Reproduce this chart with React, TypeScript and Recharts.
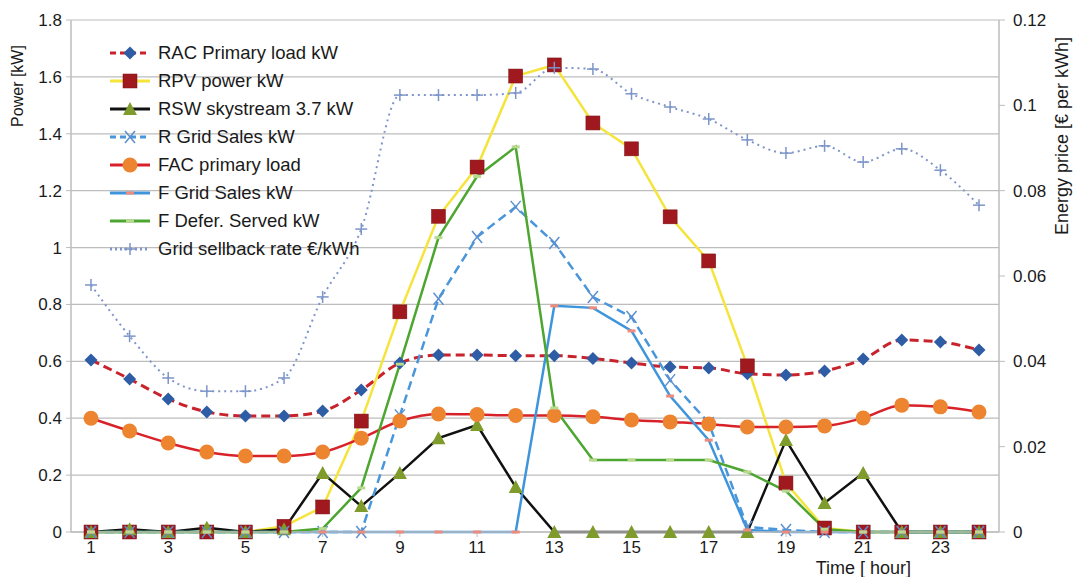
import React from 'react';
import { LineChart, Line, XAxis, YAxis, CartesianGrid } from 'recharts';

const hours = ['1', '2', '3', '4', '5', '6', '7', '8', '9', '10', '11', '12', '13', '14', '15', '16', '17', '18', '19', '20', '21', '22', '23', '24'];

const racPrimary = [0.605, 0.538, 0.468, 0.422, 0.408, 0.408, 0.425, 0.499, 0.594, 0.622, 0.622, 0.62, 0.62, 0.61, 0.594, 0.58, 0.577, 0.556, 0.552, 0.566, 0.608, 0.675, 0.668, 0.64];
const rpvPower = [0, 0, 0, 0, 0, 0.02, 0.088, 0.39, 0.774, 1.11, 1.283, 1.603, 1.642, 1.438, 1.347, 1.108, 0.953, 0.584, 0.172, 0.014, 0, 0, 0, 0];
const rswSkystream = [0, 0.01, 0, 0.015, 0, 0.01, 0.207, 0.091, 0.207, 0.33, 0.376, 0.158, 0, 0, 0, 0, 0, 0, 0.323, 0.102, 0.207, 0, 0, 0];
const rGridSales = [0, 0, 0, 0, 0, 0, 0, 0, 0.41, 0.82, 1.037, 1.143, 1.016, 0.826, 0.756, 0.534, 0.383, 0.018, 0.007, 0, 0, 0, 0, 0];
const facPrimary = [0.4, 0.355, 0.313, 0.281, 0.267, 0.267, 0.281, 0.33, 0.39, 0.415, 0.413, 0.41, 0.41, 0.405, 0.394, 0.387, 0.38, 0.369, 0.369, 0.373, 0.401, 0.446, 0.44, 0.422];
const fGridSales = [0, 0, 0, 0, 0, 0, 0, 0, 0, 0, 0, 0, 0.795, 0.788, 0.707, 0.478, 0.323, 0.007, 0, 0, 0, 0, 0, 0];
const fDeferServed = [0, 0, 0, 0, 0, 0, 0.012, 0.155, 0.59, 1.035, 1.25, 1.354, 0.436, 0.253, 0.253, 0.253, 0.253, 0.211, 0.144, 0.01, 0, 0, 0, 0];
const sellbackRate = [0.0579, 0.0459, 0.0361, 0.033, 0.033, 0.0361, 0.0551, 0.071, 0.1024, 0.1024, 0.1024, 0.1029, 0.1088, 0.1085, 0.1027, 0.0996, 0.0968, 0.0919, 0.0888, 0.0905, 0.0867, 0.0898, 0.0848, 0.0766];

const powerTicks = [0, 0.2, 0.4, 0.6, 0.8, 1, 1.2, 1.4, 1.6, 1.8];
const priceTicks = [0, 0.02, 0.04, 0.06, 0.08, 0.1, 0.12];

const data = hours.map((h, i) => ({
  hour: h,
  rac: racPrimary[i],
  rpv: rpvPower[i],
  rsw: rswSkystream[i],
  rgrid: rGridSales[i],
  fac: facPrimary[i],
  fgrid: fGridSales[i],
  fdefer: fDeferServed[i],
  sellback: sellbackRate[i],
}));

const FONT = '"Liberation Sans", Arial, sans-serif';

// marker shapes
const marker = (kind: string, cx: number, cy: number, key?: any) => {
  switch (kind) {
    case 'diamond':
      return <path key={key} d={`M${cx},${cy - 6.5}L${cx + 6.5},${cy}L${cx},${cy + 6.5}L${cx - 6.5},${cy}Z`} fill="#2E5DA5" />;
    case 'square':
      return <rect key={key} x={cx - 7} y={cy - 7} width={14} height={14} fill="#A0191E" stroke="#7a1216" strokeWidth={0.5} />;
    case 'triangle':
      return <path key={key} d={`M${cx},${cy - 7}L${cx + 7},${cy + 6}L${cx - 7},${cy + 6}Z`} fill="#7E9B2C" />;
    case 'cross':
      return (
        <g key={key} stroke="#5B8FD0" strokeWidth={1.5}>
          <line x1={cx - 5} y1={cy - 6} x2={cx + 5} y2={cy + 6} />
          <line x1={cx - 5} y1={cy + 6} x2={cx + 5} y2={cy - 6} />
        </g>
      );
    case 'circle':
      return <circle key={key} cx={cx} cy={cy} r={7.5} fill="#EC8430" />;
    case 'salmon':
      return <rect key={key} x={cx - 4} y={cy - 1.5} width={8} height={3} fill="#EE8B7C" />;
    case 'lime':
      return <rect key={key} x={cx - 4} y={cy - 1.5} width={8} height={3} fill="#B9D98F" />;
    case 'plus':
      return (
        <g key={key} stroke="#7C95C9" strokeWidth={1.5}>
          <line x1={cx - 6} y1={cy} x2={cx + 6} y2={cy} />
          <line x1={cx} y1={cy - 6} x2={cx} y2={cy + 6} />
        </g>
      );
    default:
      return null;
  }
};

const dotOf = (kind: string) => (props: any) => {
  const { cx, cy, index } = props;
  if (cx == null || cy == null) return <g key={index} />;
  return marker(kind, cx, cy, index);
};

const legendItems = [
  { name: 'RAC Primary load kW', color: '#C8232C', dash: '6 4', kind: 'diamond' },
  { name: 'RPV power kW', color: '#F4E43C', dash: '', kind: 'square' },
  { name: 'RSW skystream 3.7 kW', color: '#111111', dash: '', kind: 'triangle' },
  { name: 'R Grid Sales kW', color: '#4A96DA', dash: '6 4', kind: 'cross' },
  { name: 'FAC primary load', color: '#D8222A', dash: '', kind: 'circle' },
  { name: 'F Grid Sales kW', color: '#3E95DB', dash: '', kind: 'salmon' },
  { name: 'F Defer. Served kW', color: '#4DA630', dash: '', kind: 'lime' },
  { name: 'Grid sellback rate €/kWh', color: '#8096CA', dash: '2 3', kind: 'plus' },
];

// legend overlaid on the plot (Excel style, no box)
const LegendBox = () => (
  <div style={{ position: 'absolute', left: 109, top: 39, fontFamily: FONT, fontSize: 18.5, color: '#1a1a1a', pointerEvents: 'none' }}>
    {legendItems.map(it => (
      <div key={it.name} style={{ display: 'flex', alignItems: 'center', height: 28, whiteSpace: 'nowrap' }}>
        <svg width={42} height={16} style={{ marginRight: 7 }}>
          <line x1={1} y1={8} x2={41} y2={8} stroke={it.color} strokeWidth={3} strokeDasharray={it.dash || undefined} />
          {marker(it.kind, 21, 8)}
        </svg>
        <span>{it.name}</span>
      </div>
    ))}
  </div>
);

const LeftTitle = ({ viewBox }: any) => {
  const x = viewBox.x + 19;
  const y = viewBox.y + 66;
  return (
    <text x={x} y={y} transform={`rotate(-90 ${x} ${y})`}
      textAnchor="middle" dominantBaseline="middle" fontFamily={FONT} fontSize={16} fill="#1a1a1a">
      Power [kW]
    </text>
  );
};

const RightTitle = ({ viewBox }: any) => {
  const x = viewBox.x + viewBox.width - 10;
  const y = viewBox.y + 116;
  return (
    <text x={x} y={y} transform={`rotate(-90 ${x} ${y})`}
      textAnchor="middle" dominantBaseline="middle" fontFamily={FONT} fontSize={18} fill="#1a1a1a">
      Energy price [€ per kWh]
    </text>
  );
};

const fmt = (v: number) => String(Number(v.toFixed(2)));
const tickStyle = { fontSize: 17, fill: '#1a1a1a', fontFamily: FONT };

export default function App() {
  return (
    <div style={{ position: 'absolute', left: 0, top: 0, width: 1073, height: 577, background: '#fff' }}>
      <LineChart width={1073} height={577} data={data} margin={{ top: 20, right: 0, left: 0, bottom: 0 }}>
        <CartesianGrid yAxisId="left" vertical={false} stroke="#BDBDBD" strokeWidth={1.2} />
        <XAxis
          dataKey="hour"
          interval={1}
          padding={{ left: 20, right: 20 }}
          height={45}
          tick={tickStyle}
          tickLine={{ stroke: '#BDBDBD' }}
          axisLine={{ stroke: '#BDBDBD', strokeWidth: 1.5 }}
          tickSize={5}
          tickMargin={4}
          label={{ value: 'Time [ hour]', position: 'insideBottomRight', dx: -83, dy: 2, fontSize: 18, fill: '#1a1a1a', fontFamily: FONT }}
        />
        <YAxis
          yAxisId="left"
          domain={[0, 1.8]}
          ticks={powerTicks}
          tickFormatter={fmt}
          width={71}
          tick={tickStyle}
          tickLine={{ stroke: '#BDBDBD' }}
          axisLine={{ stroke: '#BDBDBD', strokeWidth: 1.5 }}
          tickSize={5}
          tickMargin={4}
          label={<LeftTitle />}
        />
        <YAxis
          yAxisId="right"
          orientation="right"
          domain={[0, 0.12]}
          ticks={priceTicks}
          tickFormatter={fmt}
          width={74}
          tick={tickStyle}
          tickLine={{ stroke: '#BDBDBD' }}
          axisLine={{ stroke: '#BDBDBD', strokeWidth: 1.5 }}
          tickSize={6}
          tickMargin={8}
          label={<RightTitle />}
        />
        <Line yAxisId="left" dataKey="rac" name="RAC Primary load kW" type="monotone" stroke="#C8232C" strokeWidth={3} strokeDasharray="9 5" dot={dotOf('diamond')} isAnimationActive={false} />
        <Line yAxisId="left" dataKey="rpv" name="RPV power kW" type="linear" stroke="#F4E43C" strokeWidth={2.5} dot={dotOf('square')} isAnimationActive={false} />
        <Line yAxisId="left" dataKey="rsw" name="RSW skystream 3.7 kW" type="linear" stroke="#111111" strokeWidth={2.5} dot={dotOf('triangle')} isAnimationActive={false} />
        <Line yAxisId="left" dataKey="rgrid" name="R Grid Sales kW" type="linear" stroke="#4A96DA" strokeWidth={2.5} strokeDasharray="9 5" dot={dotOf('cross')} isAnimationActive={false} />
        <Line yAxisId="left" dataKey="fac" name="FAC primary load" type="monotone" stroke="#D8222A" strokeWidth={2.5} dot={dotOf('circle')} isAnimationActive={false} />
        <Line yAxisId="left" dataKey="fgrid" name="F Grid Sales kW" type="linear" stroke="#3E95DB" strokeWidth={2.5} dot={dotOf('salmon')} isAnimationActive={false} />
        <Line yAxisId="left" dataKey="fdefer" name="F Defer. Served kW" type="linear" stroke="#4DA630" strokeWidth={2.5} dot={dotOf('lime')} isAnimationActive={false} />
        <Line yAxisId="right" dataKey="sellback" name="Grid sellback rate €/kWh" type="monotone" stroke="#8096CA" strokeWidth={2} strokeDasharray="2 4" dot={dotOf('plus')} isAnimationActive={false} />
      </LineChart>
      <LegendBox />
    </div>
  );
}
